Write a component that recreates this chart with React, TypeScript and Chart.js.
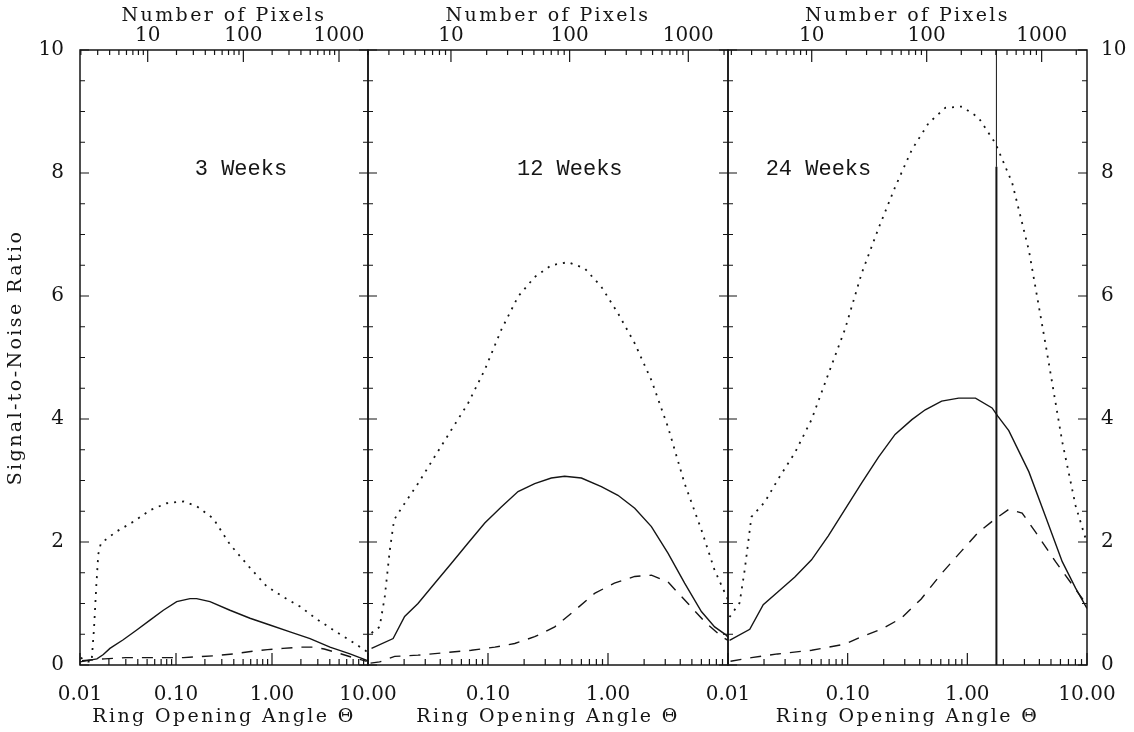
import React, { useEffect, useRef } from 'react';
import { Chart, registerables } from 'chart.js';

Chart.register(...registerables);

// ---------------- data ----------------
const THETA_MIN = 0.01;
const THETA_MAX = 10;
const SNR_MIN = 0;
const SNR_MAX = 10;
const SNR_LABELS = [0, 2, 4, 6, 8, 10];
const THETA_LABELS_FULL = [0.01, 0.1, 1, 10];
const THETA_LABELS_MID = [0.1, 1];
const PIXEL_LABELS = [10, 100, 1000];
const PIXEL_RANGE_3W = [1.96, 2010];
const PIXEL_RANGE_12W = [2.0, 2160];
const PIXEL_RANGE_24W = [1.87, 2480];
const PANEL_NAMES = ['3 Weeks', '12 Weeks', '24 Weeks'];
const PANEL_NAME_THETA = [0.475, 0.48, 0.057];
const PANEL_NAME_SNR = 8.07;
const CUTOFF_THETA = 1.75;
const CUTOFF_SPLIT_SNR = 8.1;

// 3 weeks
const W3_DOT_THETA = [0.0102, 0.0115, 0.0132, 0.014, 0.0148, 0.0155, 0.0165, 0.024, 0.036, 0.054, 0.08, 0.12, 0.165, 0.245, 0.365, 0.59, 0.88, 1.3, 1.96, 2.9, 4.35, 6.5, 9.7];
const W3_DOT_SNR = [0.12, 0.06, 0.05, 0.6, 1.3, 1.8, 1.98, 2.17, 2.33, 2.52, 2.63, 2.66, 2.58, 2.38, 1.96, 1.58, 1.28, 1.11, 0.95, 0.75, 0.57, 0.4, 0.22];
const W3_SOL_THETA = [0.01, 0.015, 0.0175, 0.0205, 0.0282, 0.039, 0.0536, 0.0738, 0.1017, 0.14, 0.164, 0.226, 0.365, 0.59, 0.95, 1.54, 2.49, 4.02, 6.49, 9.9];
const W3_SOL_SNR = [0.05, 0.1, 0.17, 0.27, 0.41, 0.57, 0.73, 0.89, 1.03, 1.08, 1.08, 1.03, 0.89, 0.76, 0.65, 0.54, 0.43, 0.29, 0.18, 0.07];
const W3_DSH_THETA = [0.0105, 0.018, 0.03, 0.06, 0.12, 0.25, 0.4, 0.6, 0.9, 1.3, 2.0, 2.7, 3.5, 5, 7, 9.7];
const W3_DSH_SNR = [0.07, 0.1, 0.12, 0.12, 0.12, 0.15, 0.18, 0.22, 0.25, 0.27, 0.29, 0.29, 0.26, 0.19, 0.12, 0.06];

// 12 weeks
const W12_DOT_THETA = [0.0107, 0.0125, 0.0138, 0.0152, 0.0165, 0.019, 0.0261, 0.036, 0.0494, 0.068, 0.094, 0.129, 0.178, 0.245, 0.337, 0.464, 0.639, 0.88, 1.21, 1.67, 2.3, 3.16, 4.35, 6.0, 7.74, 10];
const W12_DOT_SNR = [0.52, 0.62, 1.11, 1.87, 2.36, 2.55, 2.95, 3.39, 3.82, 4.25, 4.8, 5.45, 5.99, 6.31, 6.5, 6.55, 6.45, 6.15, 5.72, 5.23, 4.63, 3.87, 2.95, 2.2, 1.54, 1.06];
const W12_SOL_THETA = [0.0107, 0.0162, 0.0202, 0.0261, 0.036, 0.0494, 0.068, 0.094, 0.129, 0.178, 0.245, 0.337, 0.435, 0.6, 0.88, 1.21, 1.67, 2.3, 3.16, 4.35, 6.0, 7.74, 9.6, 10];
const W12_SOL_SNR = [0.27, 0.43, 0.79, 1.0, 1.33, 1.65, 1.98, 2.31, 2.57, 2.82, 2.95, 3.04, 3.07, 3.04, 2.9, 2.76, 2.55, 2.25, 1.82, 1.33, 0.87, 0.62, 0.49, 0.45];
const W12_DSH_THETA = [0.0105, 0.0125, 0.0167, 0.0261, 0.0435, 0.0726, 0.114, 0.167, 0.245, 0.36, 0.53, 0.78, 1.13, 1.67, 2.3, 3.16, 4.64, 6.42, 8.88, 10];
const W12_DSH_SNR = [0.03, 0.05, 0.14, 0.16, 0.2, 0.24, 0.29, 0.35, 0.46, 0.62, 0.89, 1.17, 1.33, 1.44, 1.46, 1.35, 1.0, 0.7, 0.46, 0.4];

// 24 weeks
const W24_DOT_THETA = [0.0103, 0.0125, 0.0138, 0.0157, 0.0203, 0.0262, 0.0362, 0.0499, 0.0689, 0.095, 0.131, 0.181, 0.249, 0.344, 0.474, 0.654, 0.902, 1.24, 1.72, 2.37, 3.27, 4.51, 6.21, 8.03, 10];
const W24_DOT_SNR = [0.78, 1.01, 1.55, 2.41, 2.65, 3.02, 3.45, 3.99, 4.73, 5.46, 6.37, 7.1, 7.77, 8.38, 8.81, 9.06, 9.08, 8.9, 8.48, 7.84, 6.74, 5.21, 3.63, 2.59, 1.98];
const W24_SOL_THETA = [0.0103, 0.0152, 0.0197, 0.0262, 0.0362, 0.0499, 0.0689, 0.095, 0.131, 0.181, 0.249, 0.344, 0.445, 0.61, 0.846, 1.17, 1.61, 1.79, 2.22, 3.27, 4.51, 6.21, 8.03, 10];
const W24_SOL_SNR = [0.4, 0.58, 0.98, 1.19, 1.43, 1.71, 2.1, 2.53, 2.96, 3.38, 3.75, 3.99, 4.15, 4.29, 4.34, 4.34, 4.18, 4.05, 3.81, 3.14, 2.41, 1.68, 1.25, 0.92];
const W24_DSH_THETA = [0.0105, 0.0157, 0.026, 0.05, 0.095, 0.131, 0.19, 0.28, 0.41, 0.61, 0.9, 1.24, 1.72, 2.22, 2.87, 3.72, 5.46, 7.5, 9.7];
const W24_DSH_SNR = [0.06, 0.12, 0.18, 0.24, 0.34, 0.46, 0.58, 0.76, 1.07, 1.49, 1.86, 2.16, 2.38, 2.53, 2.47, 2.16, 1.68, 1.31, 1.01];

// ---------------- styling ----------------
const INK = '#151515';
const FONT_FAMILY = '"DejaVu Serif", "Liberation Serif", serif';
const TICK_FONT = { family: FONT_FAMILY, size: 20 };
const TITLE_FONT = { family: FONT_FAMILY, size: 19 };
const TITLE_SPACING = '2.4px';

const CANVAS_H = 732;
const PLOT_TOP = 50;
const PLOT_BOTTOM = 665;

function logTicks(min: number, max: number): number[] {
  const out: number[] = [];
  const e0 = Math.floor(Math.log10(min));
  const e1 = Math.ceil(Math.log10(max));
  for (let e = e0; e <= e1; e++) {
    for (let k = 1; k <= 9; k++) {
      const v = +(k * Math.pow(10, e)).toPrecision(6);
      if (v >= min * 0.9999 && v <= max * 1.0001) out.push(v);
    }
  }
  return out;
}
const isDecade = (v: number) => Math.abs(Math.log10(v) - Math.round(Math.log10(v))) < 1e-6;
const inList = (v: number, list: number[]) => list.some((l) => Math.abs(l - v) <= 1e-6 * Math.max(1, Math.abs(l)));

function pts(xs: number[], ys: number[]) {
  return xs.map((x, i) => ({ x, y: ys[i] }));
}

type Panel = {
  name: string;
  nameTheta: number;
  left: number;
  width: number;
  padLeft: number;
  padRight: number;
  yWidth: number;
  yPos: 'left' | 'right';
  yLabels: boolean;
  yTitle: boolean;
  thetaLabels: number[];
  pixRange: number[];
  dot: [number[], number[]];
  sol: [number[], number[]];
  dsh: [number[], number[]];
  cutoff: boolean;
};

// panel plot areas: 80–368, 368–728, 728–1087 (page x)
const PANELS: Panel[] = [
  {
    name: PANEL_NAMES[0], nameTheta: PANEL_NAME_THETA[0], left: 0, width: 440, padLeft: 0, padRight: 72,
    yWidth: 80, yPos: 'left', yLabels: true, yTitle: true, thetaLabels: THETA_LABELS_FULL, pixRange: PIXEL_RANGE_3W,
    dot: [W3_DOT_THETA, W3_DOT_SNR], sol: [W3_SOL_THETA, W3_SOL_SNR], dsh: [W3_DSH_THETA, W3_DSH_SNR], cutoff: false,
  },
  {
    name: PANEL_NAMES[1], nameTheta: PANEL_NAME_THETA[1], left: 300, width: 500, padLeft: 68, padRight: 72,
    yWidth: 0, yPos: 'left', yLabels: false, yTitle: false, thetaLabels: THETA_LABELS_MID, pixRange: PIXEL_RANGE_12W,
    dot: [W12_DOT_THETA, W12_DOT_SNR], sol: [W12_SOL_THETA, W12_SOL_SNR], dsh: [W12_DSH_THETA, W12_DSH_SNR], cutoff: false,
  },
  {
    name: PANEL_NAMES[2], nameTheta: PANEL_NAME_THETA[2], left: 660, width: 474, padLeft: 68, padRight: 0,
    yWidth: 47, yPos: 'right', yLabels: true, yTitle: false, thetaLabels: THETA_LABELS_FULL, pixRange: PIXEL_RANGE_24W,
    dot: [W24_DOT_THETA, W24_DOT_SNR], sol: [W24_SOL_THETA, W24_SOL_SNR], dsh: [W24_DSH_THETA, W24_DSH_SNR], cutoff: true,
  },
];

function framePlugin(p: Panel) {
  return {
    id: 'frameTicks',
    beforeDraw(chart: any) {
      chart.ctx.letterSpacing = TITLE_SPACING;
    },
    beforeDatasetsDraw(chart: any) {
      chart.ctx.letterSpacing = '0px';
    },
    afterDraw(chart: any) {
      const { ctx, chartArea: a, scales } = chart;
      ctx.save();
      ctx.letterSpacing = '0px';
      ctx.strokeStyle = INK;
      ctx.lineWidth = 1.2;
      ctx.beginPath();
      for (const t of scales.x.ticks) {
        const px = scales.x.getPixelForValue(t.value);
        const len = isDecade(t.value) ? 12 : 6;
        ctx.moveTo(px, a.bottom);
        ctx.lineTo(px, a.bottom - len);
      }
      for (const t of scales.x2.ticks) {
        const px = scales.x2.getPixelForValue(t.value);
        const len = isDecade(t.value) ? 12 : 5;
        ctx.moveTo(px, a.top);
        ctx.lineTo(px, a.top + len);
      }
      for (const t of scales.y.ticks) {
        const py = scales.y.getPixelForValue(t.value);
        const len = Math.abs(t.value % 2) < 1e-9 ? 9 : 5;
        ctx.moveTo(a.left, py);
        ctx.lineTo(a.left + len, py);
        ctx.moveTo(a.right, py);
        ctx.lineTo(a.right - len, py);
      }
      ctx.stroke();
      ctx.lineWidth = 1.5;
      ctx.strokeRect(a.left, a.top, a.right - a.left, a.bottom - a.top);
      ctx.fillStyle = INK;
      ctx.font = '22px "Liberation Mono", "DejaVu Sans Mono", monospace';
      ctx.textAlign = 'center';
      ctx.textBaseline = 'middle';
      ctx.fillText(p.name, scales.x.getPixelForValue(p.nameTheta), scales.y.getPixelForValue(PANEL_NAME_SNR));
      ctx.restore();
    },
  };
}

function makeConfig(p: Panel): any {
  const datasets: any[] = [
    { label: 'dotted', data: pts(p.dot[0], p.dot[1]), borderColor: INK, borderWidth: 1.8, borderDash: [2, 6] },
    { label: 'solid', data: pts(p.sol[0], p.sol[1]), borderColor: INK, borderWidth: 1.4 },
    { label: 'dashed', data: pts(p.dsh[0], p.dsh[1]), borderColor: INK, borderWidth: 1.4, borderDash: [11, 9] },
  ];
  if (p.cutoff) {
    datasets.push({ label: 'cut-lo', data: [{ x: CUTOFF_THETA, y: SNR_MIN }, { x: CUTOFF_THETA, y: CUTOFF_SPLIT_SNR }], borderColor: INK, borderWidth: 2 });
    datasets.push({ label: 'cut-hi', data: [{ x: CUTOFF_THETA, y: CUTOFF_SPLIT_SNR }, { x: CUTOFF_THETA, y: SNR_MAX }], borderColor: INK, borderWidth: 1 });
  }
  datasets.forEach((d) => {
    d.xAxisID = 'x';
    d.yAxisID = 'y';
    d.pointRadius = 0;
    d.fill = false;
    d.tension = 0;
  });
  return {
    type: 'line',
    data: { datasets },
    plugins: [framePlugin(p)],
    options: {
      responsive: false,
      animation: false,
      events: [],
      layout: { padding: { left: p.padLeft, right: p.padRight, top: 0, bottom: 0 } },
      plugins: { legend: { display: false }, tooltip: { enabled: false }, title: { display: false } },
      scales: {
        x: {
          type: 'logarithmic',
          position: 'bottom',
          min: THETA_MIN,
          max: THETA_MAX,
          grid: { display: false },
          border: { display: false },
          afterBuildTicks: (s: any) => {
            s.ticks = logTicks(THETA_MIN, THETA_MAX).map((v) => ({ value: v }));
          },
          afterFit: (s: any) => {
            s.height = CANVAS_H - PLOT_BOTTOM;
          },
          ticks: {
            autoSkip: false,
            maxRotation: 0,
            minRotation: 0,
            padding: 10,
            z: 1,
            color: INK,
            font: TICK_FONT,
            callback: (v: number) => (inList(v, p.thetaLabels) ? Number(v).toFixed(2) : ''),
          },
          title: { display: true, text: 'Ring Opening Angle Θ', color: INK, font: TITLE_FONT, padding: { top: 0, bottom: 4 } },
        },
        x2: {
          type: 'logarithmic',
          position: 'top',
          min: p.pixRange[0],
          max: p.pixRange[1],
          grid: { display: false },
          border: { display: false },
          afterBuildTicks: (s: any) => {
            s.ticks = logTicks(p.pixRange[0], p.pixRange[1]).map((v) => ({ value: v }));
          },
          afterFit: (s: any) => {
            s.height = PLOT_TOP;
          },
          ticks: {
            autoSkip: false,
            maxRotation: 0,
            minRotation: 0,
            padding: -6,
            z: 1,
            color: INK,
            font: TICK_FONT,
            callback: (v: number) => (inList(v, PIXEL_LABELS) ? String(Math.round(v)) : ''),
          },
          title: { display: true, text: 'Number of Pixels', color: INK, font: TITLE_FONT, padding: { top: 5, bottom: 0 } },
        },
        y: {
          type: 'linear',
          position: p.yPos,
          min: SNR_MIN,
          max: SNR_MAX,
          grid: { display: false },
          border: { display: false },
          afterFit: (s: any) => {
            s.width = p.yWidth;
          },
          ticks: {
            stepSize: 0.5,
            autoSkip: false,
            display: p.yLabels,
            padding: p.yPos === 'left' ? 8 : 6,
            z: 1,
            color: INK,
            font: TICK_FONT,
            callback: (v: number) => (inList(v, SNR_LABELS) ? String(v) : ''),
          },
          title: { display: p.yTitle, text: 'Signal-to-Noise Ratio', color: INK, font: TITLE_FONT, padding: { top: 5, bottom: 0 } },
        },
      },
    },
  };
}

function PanelChart({ panel }: { panel: Panel }) {
  const ref = useRef<HTMLCanvasElement | null>(null);
  useEffect(() => {
    if (!ref.current) return;
    const chart = new Chart(ref.current, makeConfig(panel));
    return () => chart.destroy();
  }, [panel]);
  return (
    <canvas
      ref={ref}
      width={panel.width}
      height={CANVAS_H}
      style={{ position: 'absolute', left: panel.left, top: 0, width: panel.width, height: CANVAS_H }}
    />
  );
}

export default function App() {
  return (
    <div style={{ position: 'fixed', left: 0, top: 0, width: 1134, height: 732, background: '#ffffff', overflow: 'hidden' }}>
      {PANELS.map((p) => (
        <PanelChart key={p.name} panel={p} />
      ))}
    </div>
  );
}
